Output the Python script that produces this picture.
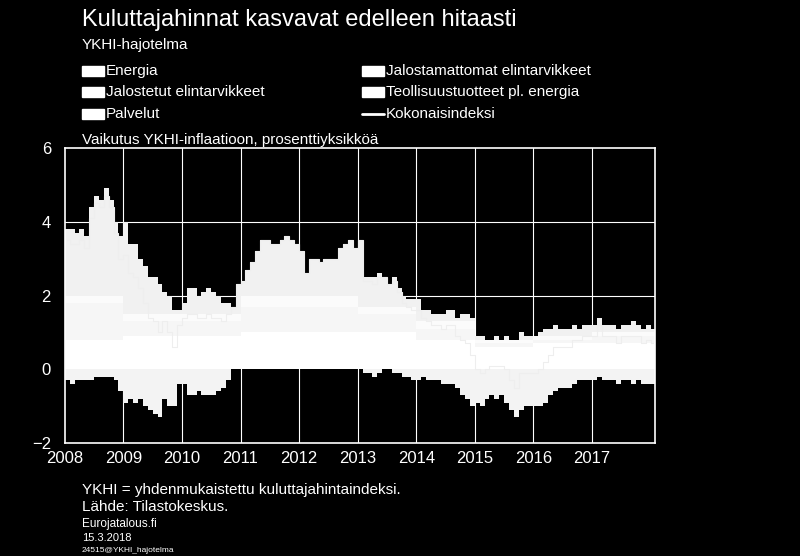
import numpy as np, pandas as pd, matplotlib
matplotlib.use("Agg")
import matplotlib.pyplot as plt, seaborn as sns
from matplotlib.patches import Rectangle

years = [2008,2009,2010,2011,2012,2013,2014,2015,2016,2017,2018]
services_y = [.8,.9,.9,1.0,1.0,1.0,.8,.6,.7,.7,.7]
unproc_y = [.2,.2,.2,.3,.3,.2,.2,.1,.1,.1,.1]
proc_y = [1.0,.4,.4,.7,.7,.5,.3,.1,.1,.2,.2]
energy = [1.8,1.8,1.7,1.8,1.6,2.4,2.7,2.6,2.9,2.6,2.0,1.6,
          2.5,1.9,1.9,1.5,1.3,1.0,1.0,0.8,0.6,0.5,0.1,0.1,
          .3,.7,.7,.5,.6,.7,.6,.5,.3,.3,.2,.8,
          .4,.7,.9,1.2,1.5,1.5,1.4,1.4,1.5,1.6,1.5,1.4,
          1.2,.6,1.0,1.0,.9,1.0,1.0,1.0,1.3,1.4,1.5,1.3,
          1.8,.8,.8,.8,.9,.8,.6,.8,.5,.3,.2,.2,
          .6,.3,.3,.2,.2,.2,.3,.3,.1,.2,.2,.1,
          .1,.1,0,0,.1,0,.1,0,0,.2,.1,.1,
          0,.1,.2,.2,.3,.2,.2,.2,.3,.2,.3,.3,
          .2,.4,.2,.2,.2,.1,.2,.2,.3,.2,.1,.2, .1]
industrial = [-.3,-.4,-.3,-.3,-.3,-.3,-.2,-.2,-.2,-.2,-.3,-.6,
              -.9,-.8,-.9,-.8,-1.0,-1.1,-1.2,-1.3,-.8,-1.0,-1.0,-.4,
              -.4,-.7,-.7,-.6,-.7,-.7,-.7,-.6,-.5,-.3,0,0,
              0,0,0,0,0,0,0,0,0,0,0,0,
              0,0,0,0,0,0,0,0,0,0,0,0,
              0,-.1,-.1,-.2,-.1,0,0,-.1,-.1,-.2,-.2,-.3,
              -.3,-.2,-.3,-.3,-.3,-.4,-.4,-.4,-.5,-.7,-.8,-1.0,
              -.9,-1.0,-.8,-.7,-.8,-.7,-.9,-1.1,-1.3,-1.1,-1.0,-1.0,
              -1.0,-1.0,-.9,-.7,-.6,-.5,-.5,-.5,-.4,-.3,-.3,-.3,
              -.3,-.2,-.3,-.3,-.3,-.4,-.3,-.3,-.4,-.3,-.4,-.4, -.4]
n = len(energy)
yr_idx = np.arange(n)//12
S = np.array(services_y)[yr_idx]; U = np.array(unproc_y)[yr_idx]; P = np.array(proc_y)[yr_idx]
E = np.array(energy); I = np.array(industrial)
x = 2008 + np.arange(n)/12 + 1/24
total = S+U+P+E+I

sns.set_style("dark")
plt.rcParams['font.family'] = ['Liberation Sans', 'DejaVu Sans']
fig = plt.figure(figsize=(8,5.56), dpi=100, facecolor='black')
ax = fig.add_axes([0.081,0.203,0.738,0.531], facecolor='black')
w = 1/12
bottom = np.zeros(n)
cols = ['#ffffff','#f6f6f6','#fbfbfb','#f1f1f1']
for v,c in zip([S,P,U,E],cols):
    ax.bar(x, v, width=w, bottom=bottom, color=c, edgecolor='none', linewidth=0)
    bottom = bottom+v
ax.bar(x, I, width=w, color='#f3f3f3', edgecolor='none', linewidth=0)
sns.lineplot(x=x, y=total, ax=ax, color='#eeeeee', lw=0.8, drawstyle='steps-mid')
for yv in [2,4]:
    ax.axhline(yv, color='white', lw=0.8, zorder=0)
for xv in range(2009,2018):
    ax.axvline(xv, color='white', lw=0.8, zorder=0)
ax.set_xlim(2008,2018.08); ax.set_ylim(-2,6)
ax.set_yticks([-2,0,2,4,6]); ax.set_yticklabels(['−2','0','2','4','6'])
ax.set_xticks(range(2008,2018)); ax.set_xticklabels([str(y) for y in range(2008,2018)])
ax.tick_params(colors='white', labelsize=12, length=0, pad=10)
ax.tick_params(axis='x', pad=6)
for s in ax.spines.values():
    s.set_color('white'); s.set_linewidth(1.2)
ax.grid(False)
ax.set_xlabel(''); ax.set_ylabel('')

fig.text(82/800, 1-20/556, 'Kuluttajahinnat kasvavat edelleen hitaasti', color='white', fontsize=17, va='center')
fig.text(82/800, 1-45/556, 'YKHI-hajotelma', color='white', fontsize=11, va='center')
legend = [('Energia',82,71,'rect'),('Jalostamattomat elintarvikkeet',362,71,'rect'),
          ('Jalostetut elintarvikkeet',82,92,'rect'),('Teollisuustuotteet pl. energia',362,92,'rect'),
          ('Palvelut',82,114,'rect'),('Kokonaisindeksi',362,114,'line')]
for t,px,py,k in legend:
    if k=='rect':
        fig.patches.append(Rectangle((px/800,1-(py+5)/556),22/800,10/556,transform=fig.transFigure,color='white'))
    else:
        fig.lines.append(matplotlib.lines.Line2D([px/800,(px+22)/800],[1-py/556]*2,transform=fig.transFigure,color='white',lw=2))
    fig.text((px+24)/800, 1-py/556, t, color='white', fontsize=11, va='center')
fig.text(82/800, 1-140/556, 'Vaikutus YKHI-inflaatioon, prosenttiyksikköä', color='white', fontsize=11, va='center')
fig.text(82/800, 1-490/556, 'YKHI = yhdenmukaistettu kuluttajahintaindeksi.', color='white', fontsize=11, va='center')
fig.text(82/800, 1-507/556, 'Lähde: Tilastokeskus.', color='white', fontsize=11, va='center')
fig.text(82/800, 1-524/556, 'Eurojatalous.fi', color='white', fontsize=8.5, va='center')
fig.text(82/800, 1-538/556, '15.3.2018', color='white', fontsize=8, va='center')
fig.text(82/800, 1-550/556, '24515@YKHI_hajotelma', color='white', fontsize=6, va='center')
fig.savefig('out.png', dpi=100, facecolor='black')
